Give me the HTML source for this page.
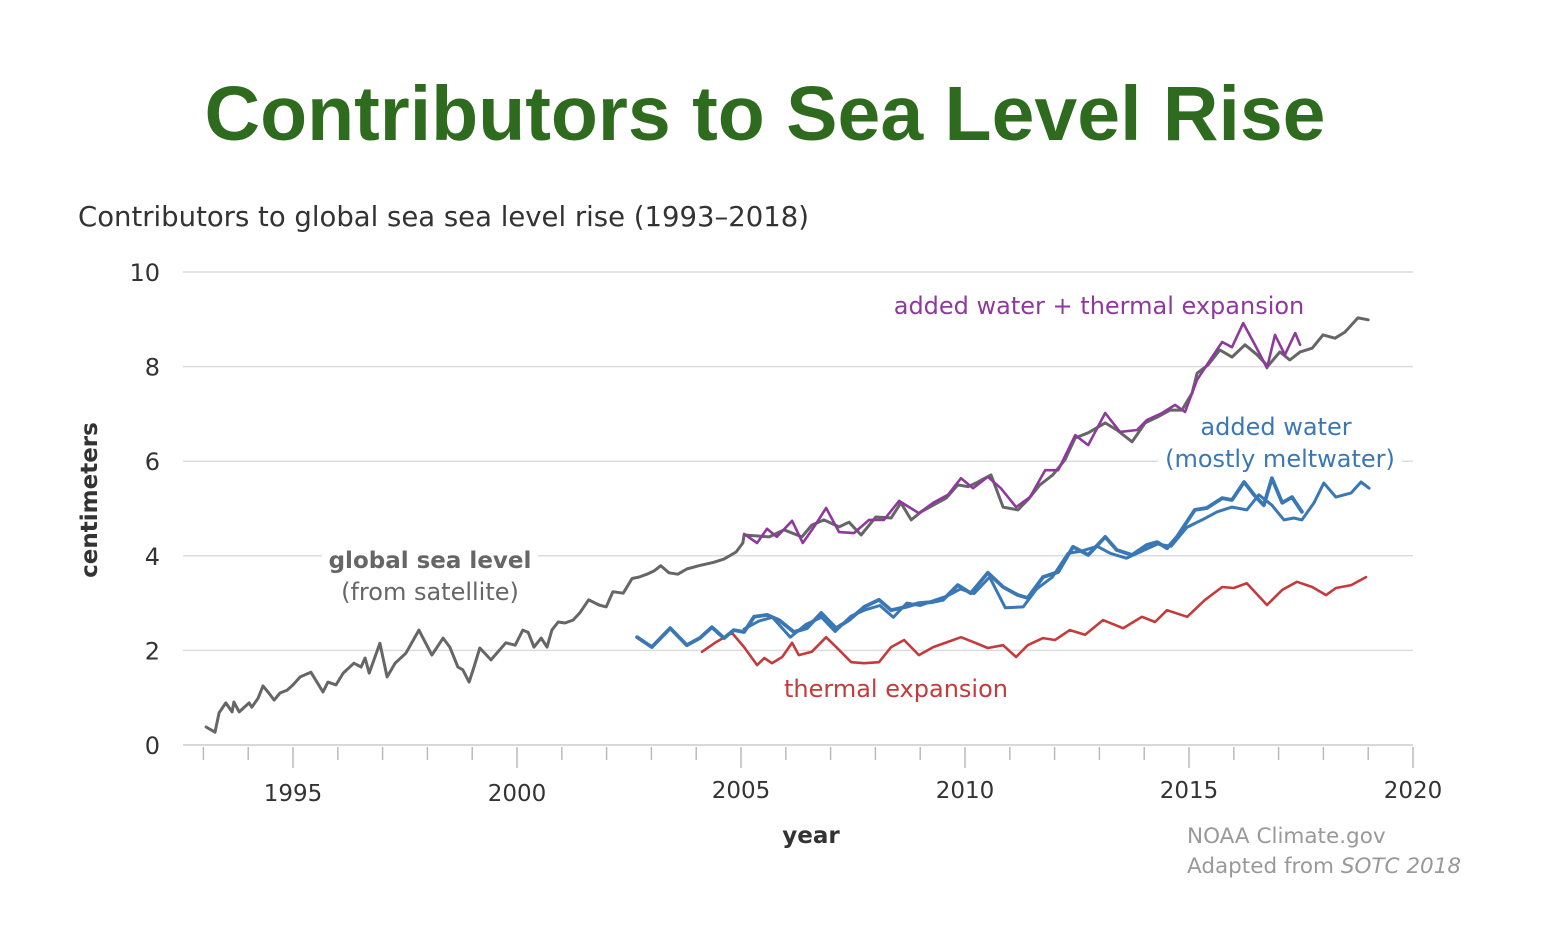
<!DOCTYPE html>
<html><head><meta charset="utf-8"><style>
body{margin:0;background:#fff;width:1546px;height:948px;overflow:hidden;font-family:"Liberation Sans",sans-serif}
svg{position:absolute;left:0;top:0}
.lbl{font-family:"DejaVu Sans","Liberation Sans",sans-serif}
</style></head><body>
<svg id="chart" width="1546" height="948" viewBox="0 0 1546 948">
<text x="765" y="140" text-anchor="middle" font-size="77" font-weight="bold" fill="#2f6b1f">Contributors to Sea Level Rise</text>
<text class="lbl" x="78" y="226" font-size="27.5" fill="#333">Contributors to global sea sea level rise (1993–2018)</text>
<g id="grid"></g>
<g>
<rect x="322" y="540" width="216" height="30" fill="#fff"></rect>
<rect x="1158" y="445" width="244" height="30" fill="#fff"></rect>
</g>
<g id="axes"></g>
<g id="series"></g>
<text class="lbl" transform="translate(97,500) rotate(-90)" text-anchor="middle" font-size="23" font-weight="bold" fill="#333">centimeters</text>
<text class="lbl" x="811" y="843" text-anchor="middle" font-size="23" font-weight="bold" fill="#333">year</text>
<g class="lbl">
<text x="430" y="568" text-anchor="middle" font-size="23" font-weight="bold" fill="#666">global sea level</text>
<text x="430" y="600" text-anchor="middle" font-size="24" fill="#666">(from satellite)</text>
<text x="1099" y="314" text-anchor="middle" font-size="24" fill="#8e3a9d">added water + thermal expansion</text>
<text x="1276" y="435" text-anchor="middle" font-size="24" fill="#3a78b5">added water</text>
<text x="1280" y="467" text-anchor="middle" font-size="24" fill="#3a78b5">(mostly meltwater)</text>
<text x="896" y="697" text-anchor="middle" font-size="24" fill="#c43b3b">thermal expansion</text>
<text x="1187" y="843" font-size="21.5" fill="#999">NOAA Climate.gov</text>
<text x="1187" y="873" font-size="21.5" fill="#999">Adapted from <tspan font-style="italic">SOTC 2018</tspan></text>
</g>
</svg>
<script>
const yTicks=[0,2,4,6,8,10];
const xTicks=[1995,2000,2005,2010,2015,2020];
const globalYears=[1993.06,1993.26,1993.35,1993.5,1993.64,1993.68,1993.8,1994.02,1994.08,1994.22,1994.33,1994.46,1994.58,1994.71,1994.87,1995.0,1995.16,1995.4,1995.67,1995.78,1995.96,1996.12,1996.36,1996.52,1996.61,1996.7,1996.94,1997.1,1997.28,1997.52,1997.81,1998.1,1998.35,1998.5,1998.68,1998.79,1998.93,1999.04,1999.17,1999.42,1999.75,1999.96,2000.13,2000.25,2000.38,2000.54,2000.67,2000.78,2000.92,2001.07,2001.25,2001.4,2001.6,2001.83,2001.99,2002.14,2002.37,2002.57,2002.72,2002.9,2003.06,2003.21,2003.39,2003.59,2003.79,2004.06,2004.38,2004.62,2004.89,2005.04,2005.07,2005.63,2005.96,2006.36,2006.58,2006.85,2007.19,2007.41,2007.68,2008.01,2008.35,2008.57,2008.8,2009.02,2009.29,2009.58,2009.84,2010.07,2010.29,2010.58,2010.85,2011.18,2011.4,2011.67,2011.96,2012.23,2012.46,2012.75,2013.13,2013.39,2013.73,2014.02,2014.29,2014.58,2014.84,2015.07,2015.18,2015.42,2015.69,2015.96,2016.25,2016.52,2016.76,2017.03,2017.25,2017.48,2017.75,2017.99,2018.26,2018.48,2018.77,2019.0];
const globalVals=[0.38,0.27,0.68,0.89,0.70,0.91,0.70,0.89,0.80,0.99,1.25,1.10,0.95,1.10,1.16,1.27,1.44,1.54,1.12,1.33,1.27,1.52,1.73,1.65,1.84,1.52,2.15,1.44,1.73,1.94,2.43,1.90,2.26,2.07,1.65,1.59,1.33,1.65,2.05,1.80,2.16,2.11,2.43,2.38,2.07,2.26,2.07,2.43,2.60,2.58,2.64,2.79,3.07,2.96,2.92,3.24,3.21,3.52,3.55,3.61,3.68,3.79,3.64,3.61,3.72,3.79,3.86,3.93,4.08,4.27,4.44,4.40,4.55,4.40,4.65,4.76,4.61,4.71,4.44,4.82,4.80,5.12,4.76,4.93,5.07,5.22,5.50,5.46,5.56,5.71,5.03,4.97,5.18,5.50,5.71,6.03,6.49,6.60,6.81,6.66,6.41,6.81,6.93,7.08,7.08,7.44,7.86,8.03,8.35,8.20,8.46,8.25,8.01,8.31,8.14,8.31,8.39,8.67,8.60,8.73,9.03,8.99];
const sumYears=[2005.07,2005.36,2005.58,2005.8,2006.14,2006.38,2006.63,2006.9,2007.19,2007.52,2007.86,2008.19,2008.53,2008.97,2009.29,2009.62,2009.91,2010.18,2010.51,2010.8,2011.14,2011.45,2011.79,2012.08,2012.46,2012.75,2013.13,2013.46,2013.84,2014.06,2014.4,2014.69,2014.91,2015.18,2015.47,2015.74,2015.96,2016.21,2016.47,2016.74,2016.92,2017.14,2017.37,2017.48];
const sumVals=[4.46,4.27,4.57,4.40,4.74,4.27,4.61,5.01,4.50,4.48,4.76,4.76,5.16,4.90,5.12,5.29,5.64,5.43,5.67,5.43,5.03,5.24,5.81,5.81,6.55,6.34,7.02,6.62,6.66,6.87,7.02,7.19,7.04,7.72,8.14,8.52,8.41,8.92,8.46,7.97,8.67,8.25,8.71,8.46];
const waterYears=[2002.68,2003.01,2003.42,2003.79,2004.08,2004.35,2004.62,2004.84,2005.07,2005.29,2005.58,2005.85,2006.18,2006.47,2006.79,2007.12,2007.41,2007.75,2008.08,2008.35,2008.68,2008.97,2009.24,2009.51,2009.84,2010.13,2010.51,2010.85,2011.18,2011.4,2011.74,2012.08,2012.41,2012.75,2013.13,2013.39,2013.73,2014.06,2014.29,2014.51,2014.73,2015.13,2015.4,2015.74,2015.96,2016.23,2016.45,2016.67,2016.85,2017.08,2017.3,2017.52];
const waterVals=[2.28,2.07,2.47,2.11,2.26,2.49,2.26,2.43,2.39,2.71,2.75,2.64,2.39,2.47,2.79,2.47,2.64,2.92,3.07,2.85,2.92,3.0,3.02,3.07,3.38,3.21,3.64,3.34,3.17,3.11,3.55,3.66,4.19,4.02,4.40,4.12,4.02,4.23,4.29,4.16,4.40,4.97,5.01,5.22,5.18,5.56,5.29,5.07,5.64,5.12,5.24,4.93];
const water2Years=[2005.07,2005.4,2005.7,2006.1,2006.45,2006.8,2007.1,2007.45,2007.75,2008.1,2008.4,2008.7,2009.0,2009.3,2009.6,2009.9,2010.2,2010.55,2010.9,2011.3,2011.6,2011.95,2012.3,2012.6,2012.95,2013.25,2013.6,2013.95,2014.3,2014.6,2014.95,2015.29,2015.63,2015.96,2016.29,2016.56,2016.85,2017.12,2017.34,2017.52,2017.79,2018.01,2018.28,2018.62,2018.84,2019.02];
const water2Vals=[2.45,2.62,2.70,2.28,2.55,2.70,2.40,2.72,2.85,2.95,2.70,3.0,2.95,3.05,3.15,3.30,3.20,3.55,2.90,2.92,3.30,3.55,4.05,4.10,4.20,4.05,3.95,4.10,4.25,4.20,4.60,4.76,4.93,5.03,4.97,5.29,5.07,4.76,4.80,4.76,5.12,5.54,5.24,5.33,5.56,5.43];
const thermalYears=[2004.13,2004.42,2004.8,2005.07,2005.36,2005.52,2005.69,2005.92,2006.14,2006.29,2006.58,2006.9,2007.19,2007.46,2007.75,2008.08,2008.35,2008.64,2008.97,2009.29,2009.62,2009.91,2010.18,2010.51,2010.85,2011.14,2011.4,2011.74,2012.01,2012.34,2012.68,2013.08,2013.53,2013.95,2014.24,2014.51,2014.96,2015.36,2015.74,2016.0,2016.29,2016.74,2017.08,2017.41,2017.75,2018.06,2018.28,2018.62,2018.95];
const thermalVals=[1.97,2.16,2.37,2.07,1.69,1.84,1.73,1.86,2.16,1.90,1.97,2.28,2.01,1.75,1.73,1.75,2.07,2.22,1.90,2.07,2.18,2.28,2.18,2.05,2.11,1.86,2.11,2.26,2.22,2.43,2.33,2.64,2.47,2.71,2.60,2.85,2.71,3.07,3.34,3.32,3.42,2.96,3.28,3.45,3.34,3.17,3.32,3.38,3.55];

const NS='http://www.w3.org/2000/svg';
function xs(yr){return 293+(yr-1995)*44.8;}
function ys(v){return 745-v*47.3;}
function mk(tag,attrs,parent){const e=document.createElementNS(NS,tag);for(const k in attrs)e.setAttribute(k,attrs[k]);parent.appendChild(e);return e;}
const grid=document.getElementById('grid'),axes=document.getElementById('axes'),series=document.getElementById('series');
yTicks.forEach(v=>{
  if(v>0){const l=mk('line',{x1:183,x2:1413,y1:ys(v),y2:ys(v),stroke:'#dcdcdc','stroke-width':1.5},grid);
  
  }
  const t=mk('text',{x:160,y:ys(v)+9,'text-anchor':'end','font-size':24,fill:'#333','font-family':'DejaVu Sans, sans-serif'},axes);t.textContent=v;
  
  
});
const base=mk('line',{x1:183,x2:1413,y1:745,y2:745,stroke:'#ccc','stroke-width':1.5},axes);


for(let yr=1993;yr<=2020;yr++){
  const major=yr%5===0;
  const tk=mk('line',{x1:xs(yr),x2:xs(yr),y1:747,y2:major?768:760,stroke:'#bbb','stroke-width':1.5},axes);
  
  
}
xTicks.forEach(yr=>{
  const t=mk('text',{x:xs(yr),y:yr<2005?801:798,'text-anchor':'middle','font-size':23,fill:'#333','font-family':'DejaVu Sans, sans-serif'},axes);t.textContent=yr;
  
  
});
function drawLine(years,vals,color,w,name){
  const d=years.map((yr,i)=>(i?'L':'M')+xs(yr).toFixed(1)+','+ys(vals[i]).toFixed(1)).join('');
  const p=mk('path',{d:d,fill:'none',stroke:color,'stroke-width':w,'stroke-linejoin':'round','stroke-linecap':'round'},series);
  
  
}
drawLine(thermalYears,thermalVals,'#c43b3b',2.6,'thermal-expansion-line');
drawLine(water2Years,water2Vals,'#3a78b5',3,'added-water-residual-line');
drawLine(waterYears,waterVals,'#3a78b5',3.8,'added-water-line');
drawLine(globalYears,globalVals,'#666666',3,'global-sea-level-line');
drawLine(sumYears,sumVals,'#8e3a9d',2.6,'added-plus-thermal-line');
</script>
</body></html>
